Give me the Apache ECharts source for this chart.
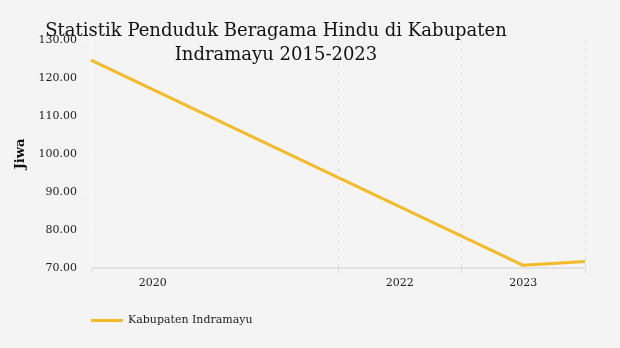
<!DOCTYPE html>
<html><head><meta charset="utf-8">
<script src="https://cdn.jsdelivr.net/npm/echarts@6/dist/echarts.min.js"></script>
<style>html,body{margin:0;padding:0;background:#f4f4f4}#c{width:620px;height:348px}</style>
</head><body><div id="c"></div>
<script>
const titleText = 'Statistik Penduduk Beragama Hindu di Kabupaten\nIndramayu 2015-2023';
const seriesName = 'Kabupaten Indramayu';
const yAxisName = 'Jiwa';
const yearCategories = ['2020', '2021', '2022', '2023'];
const hiddenLabels = ['2021'];
const pointYears = [2019.5, 2023.0, 2023.5];
const pointValues = [124.7, 70.7, 71.7];
const yTicks = [70, 80, 90, 100, 110, 120, 130];

const FONT = '"DejaVu Serif", serif';
const chart = echarts.init(document.getElementById('c'), null, {renderer: 'canvas'});
chart.setOption({
  backgroundColor: '#f4f4f4',
  animation: false,
  title: {
    text: titleText,
    left: 271, top: 14, textAlign: 'center',
    textStyle: {fontFamily: FONT, fontSize: 18, fontWeight: 'normal', color: '#111', lineHeight: 24}
  },
  legend: {
    left: 86, top: 310, itemWidth: 32, itemHeight: 3, itemGap: 10,
    icon: 'rect',
    textStyle: {fontFamily: FONT, fontSize: 11, color: '#222'},
    data: [seriesName]
  },
  grid: {left: 91, right: 35, top: 40, bottom: 80},
  xAxis: [{
    type: 'value', min: 2019.5, max: 2023.5, show: false
  }, {
    type: 'category', data: yearCategories, boundaryGap: true, position: 'bottom',
    axisLine: {show: true, lineStyle: {color: '#e2e2e2', width: 2}},
    axisTick: {show: true, length: 5, lineStyle: {color: '#e0e0e0'},
      interval: (i, v) => !hiddenLabels.includes(v)},
    axisLabel: {fontFamily: FONT, fontSize: 11, color: '#222', margin: 10,
      interval: (i, v) => !hiddenLabels.includes(v)},
    splitLine: {show: true, lineStyle: {color: '#dcdcdc', type: [4, 4], width: 1},
      interval: (i, v) => !hiddenLabels.includes(v)}
  }],
  yAxis: {
    type: 'value', min: yTicks[0], max: yTicks[yTicks.length - 1], interval: 10,
    name: yAxisName, nameLocation: 'middle', nameGap: 57, nameRotate: 90,
    nameTextStyle: {fontFamily: FONT, fontSize: 13, fontWeight: 'bold', color: '#111'},
    axisLine: {show: true, lineStyle: {color: '#ffffff', width: 1}},
    axisTick: {show: true, length: 5, lineStyle: {color: '#ffffff'}},
    axisLabel: {fontFamily: FONT, fontSize: 11, color: '#222', margin: 14,
      formatter: v => v.toFixed(2)},
    splitLine: {show: false}
  },
  series: [{
    name: seriesName, type: 'line', xAxisIndex: 0,
    data: pointYears.map((x, i) => [x, pointValues[i]]),
    showSymbol: false, symbol: 'none',
    lineStyle: {color: '#f2bb27', width: 3},
    itemStyle: {color: '#f2bb27'}
  }]
});
</script></body></html>
